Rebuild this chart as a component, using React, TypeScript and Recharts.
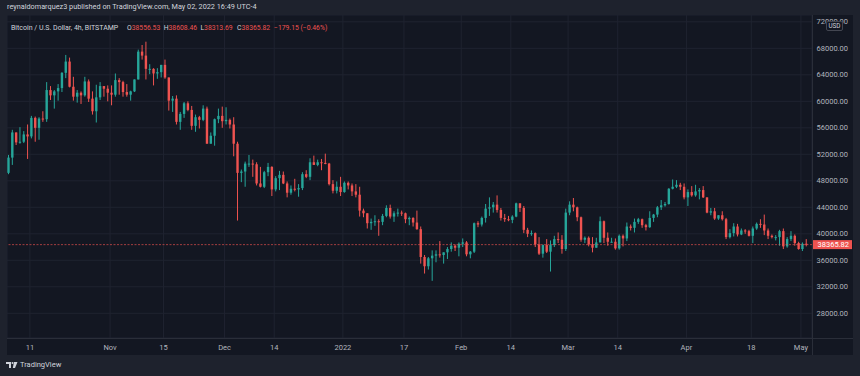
import React from "react";
import {
  ComposedChart,
  Bar,
  XAxis,
  YAxis,
  CartesianGrid,
  ReferenceLine,
} from "recharts";

// daily candles, Oct 5 2021 .. May 2 2022 (BTC/USD, thousands of USD)
const openK = [
  // Oct 5-31
  49.2, 51.5, 55.3, 53.8, 53.9, 55.0, 54.7, 57.5, 56.0, 57.4, 57.3, 61.7, 60.9, 61.5, 62.0, 64.3, 66.0, 62.2, 60.7, 61.3, 60.9, 63.0, 60.4, 58.5, 60.6, 62.3, 61.9,
  // Nov
  61.3, 61.0, 63.2, 62.9, 61.4, 61.0, 61.5, 63.3, 67.5, 66.9, 64.9, 64.9, 64.2, 64.4, 65.5, 63.6, 60.1, 60.4, 56.9, 58.1, 59.7, 58.7, 56.3, 57.6, 57.2, 58.9, 53.6, 54.8, 57.3, 57.8,
  // Dec
  57.0, 57.2, 56.5, 53.6, 49.2, 49.4, 50.6, 50.6, 50.5, 47.6, 47.1, 49.3, 50.1, 46.7, 48.4, 48.9, 47.6, 46.2, 46.8, 46.7, 46.9, 49.0, 48.6, 50.8, 50.4, 50.8, 50.7, 50.6, 47.5, 46.5, 47.1,
  // Jan
  46.3, 47.7, 47.3, 46.4, 45.9, 43.5, 43.1, 41.6, 41.8, 41.9, 41.8, 42.7, 43.9, 42.6, 43.1, 43.2, 43.1, 42.2, 42.4, 41.7, 40.7, 36.5, 35.1, 36.3, 36.7, 36.9, 36.8, 37.2, 37.7, 38.2, 37.9,
  // Feb
  38.5, 38.7, 36.9, 37.3, 41.6, 41.4, 42.4, 43.8, 44.0, 44.4, 43.6, 42.4, 42.2, 42.1, 42.6, 44.6, 43.9, 40.6, 40.0, 40.1, 38.4, 37.0, 38.3, 37.3, 38.3, 39.2, 39.1, 37.7,
  // Mar
  43.2, 44.4, 44.0, 42.5, 39.1, 39.4, 38.4, 37.9, 38.7, 41.9, 39.4, 38.8, 38.8, 37.8, 39.7, 39.3, 41.1, 40.9, 41.8, 42.2, 41.3, 41.0, 42.4, 42.9, 44.0, 44.3, 44.5, 46.8, 47.1, 47.4, 47.1,
  // Apr
  45.5, 46.3, 45.8, 46.4, 46.6, 45.5, 43.2, 43.4, 42.3, 42.8, 42.2, 39.5, 40.1, 41.1, 39.9, 40.5, 40.4, 39.7, 40.8, 41.5, 41.4, 40.5, 39.7, 39.5, 39.5, 40.4, 38.1, 39.2, 39.7, 38.6,
  // May 1-2
  37.7, 38.5,
];

const highK = [
  51.9, 55.7, 55.3, 56.1, 55.5, 56.5, 57.8, 57.7, 57.6, 58.5, 62.9, 62.3, 61.7, 62.6, 64.4, 67.0, 66.6, 63.7, 61.7, 61.5, 63.7, 63.3, 61.5, 62.5, 62.9, 62.3, 62.4,
  62.4, 64.2, 63.5, 63.1, 62.6, 61.6, 63.3, 67.8, 68.5, 69.0, 65.6, 65.0, 65.0, 65.5, 66.3, 63.6, 60.8, 60.9, 58.4, 59.9, 60.0, 59.3, 58.0, 57.8, 59.4, 59.2, 55.3, 57.4, 58.9, 59.2,
  59.1, 57.4, 57.6, 53.9, 49.7, 50.9, 51.9, 51.2, 50.8, 50.1, 49.5, 50.7, 50.2, 48.7, 49.5, 49.4, 47.9, 47.3, 48.3, 47.5, 49.3, 49.6, 51.4, 51.8, 51.2, 51.3, 52.1, 50.7, 48.1, 47.9, 48.6,
  47.9, 47.9, 47.6, 47.5, 47.1, 43.8, 43.1, 42.3, 42.8, 42.2, 43.0, 44.3, 44.4, 43.4, 43.8, 43.5, 43.2, 42.6, 42.5, 43.5, 41.1, 36.8, 36.5, 37.5, 37.5, 38.9, 37.2, 38.0, 38.7, 38.4, 38.7,
  39.3, 38.9, 37.4, 41.7, 41.9, 42.6, 44.5, 45.5, 44.8, 45.8, 43.9, 43.0, 42.7, 42.8, 44.7, 44.6, 44.2, 40.9, 40.5, 40.2, 39.5, 38.4, 39.2, 39.0, 39.7, 40.2, 39.8, 43.8,
  44.9, 45.4, 44.1, 42.6, 39.6, 39.6, 39.5, 39.4, 42.6, 42.0, 40.2, 39.4, 39.3, 39.9, 39.9, 41.7, 41.4, 42.3, 42.4, 42.3, 41.5, 43.4, 43.0, 44.2, 45.1, 44.8, 46.9, 48.2, 48.1, 47.7, 47.6,
  46.7, 47.2, 47.4, 46.9, 47.2, 45.5, 43.9, 43.9, 42.8, 43.4, 42.4, 40.7, 41.6, 41.5, 40.8, 40.7, 40.6, 41.1, 41.7, 42.2, 42.9, 40.8, 39.9, 39.8, 40.6, 40.8, 39.5, 40.4, 39.9, 38.8,
  38.7, 39.2,
];

const lowK = [
  49.0, 50.4, 53.4, 53.6, 53.7, 51.3, 54.4, 53.9, 54.2, 56.9, 56.9, 60.2, 58.9, 60.1, 61.4, 63.5, 62.1, 60.1, 59.8, 59.6, 60.7, 59.9, 58.0, 56.8, 60.2, 60.7, 60.0,
  59.4, 60.7, 61.0, 60.7, 60.7, 60.1, 61.4, 63.3, 66.3, 63.3, 64.1, 62.4, 63.4, 63.6, 63.4, 58.6, 58.4, 56.5, 55.7, 57.5, 58.5, 55.7, 55.4, 55.9, 57.0, 53.6, 53.6, 53.3, 56.7, 56.0,
  56.5, 55.9, 51.7, 42.0, 47.8, 47.1, 50.1, 48.6, 47.3, 47.0, 46.9, 48.7, 45.7, 46.4, 46.6, 47.5, 45.5, 45.9, 46.4, 45.6, 46.6, 48.4, 48.1, 50.4, 50.2, 49.6, 50.5, 47.3, 46.1, 46.1, 45.7,
  46.2, 46.7, 45.7, 45.5, 42.6, 42.5, 40.8, 40.6, 41.2, 39.7, 41.3, 42.5, 42.3, 41.8, 42.6, 42.7, 41.6, 41.3, 41.1, 40.6, 35.5, 34.0, 34.6, 32.9, 35.7, 36.4, 35.5, 36.2, 37.3, 37.4, 36.6,
  38.0, 36.6, 36.3, 37.1, 41.0, 41.1, 41.7, 42.7, 43.2, 43.2, 42.0, 41.8, 41.9, 41.6, 42.5, 43.3, 40.1, 39.5, 39.7, 38.0, 36.8, 36.4, 37.1, 34.3, 38.0, 38.6, 37.0, 37.4,
  42.8, 43.4, 41.9, 38.8, 38.6, 38.1, 37.2, 37.9, 38.7, 38.6, 38.2, 38.7, 37.6, 37.6, 38.1, 38.9, 40.5, 40.2, 41.5, 40.9, 40.5, 40.9, 41.8, 42.5, 43.6, 44.1, 44.4, 46.7, 46.9, 46.6, 45.2,
  44.2, 45.6, 45.6, 45.2, 45.4, 43.1, 42.8, 42.1, 42.1, 42.0, 39.2, 39.3, 39.6, 39.6, 39.8, 40.0, 39.6, 38.6, 40.6, 40.9, 39.8, 39.2, 39.3, 39.0, 38.2, 37.7, 37.9, 38.9, 38.2, 37.6,
  37.4, 38.1,
];

const closeK = [
  51.5, 55.3, 53.8, 53.9, 55.0, 54.7, 57.5, 56.0, 57.4, 57.3, 61.7, 60.9, 61.5, 62.0, 64.3, 66.0, 62.2, 60.7, 61.3, 60.9, 63.0, 60.4, 58.5, 60.6, 62.3, 61.9, 61.3,
  61.0, 63.2, 62.9, 61.4, 61.0, 61.5, 63.3, 67.5, 66.9, 64.9, 64.9, 64.2, 64.4, 65.5, 63.6, 60.1, 60.4, 56.9, 58.1, 59.7, 58.7, 56.3, 57.6, 57.2, 58.9, 53.6, 54.8, 57.3, 57.8, 57.0,
  57.2, 56.5, 53.6, 49.2, 49.4, 50.6, 50.6, 50.5, 47.6, 47.1, 49.3, 50.1, 46.7, 48.4, 48.9, 47.6, 46.2, 46.8, 46.7, 46.9, 49.0, 48.6, 50.8, 50.4, 50.8, 50.7, 50.6, 47.5, 46.5, 47.1, 46.3,
  47.7, 47.3, 46.4, 45.9, 43.5, 43.1, 41.6, 41.8, 41.9, 41.8, 42.7, 43.9, 42.6, 43.1, 43.2, 43.1, 42.2, 42.4, 41.7, 40.7, 36.5, 35.1, 36.3, 36.7, 36.9, 36.8, 37.2, 37.7, 38.2, 37.9, 38.5,
  38.7, 36.9, 37.3, 41.6, 41.4, 42.4, 43.8, 44.0, 44.4, 43.6, 42.4, 42.2, 42.1, 42.6, 44.6, 43.9, 40.6, 40.0, 40.1, 38.4, 37.0, 38.3, 37.3, 38.3, 39.2, 39.1, 37.7, 43.2,
  44.4, 44.0, 42.5, 39.1, 39.4, 38.4, 37.9, 38.7, 41.9, 39.4, 38.8, 38.8, 37.8, 39.7, 39.3, 41.1, 40.9, 41.8, 42.2, 41.3, 41.0, 42.4, 42.9, 44.0, 44.3, 44.5, 46.8, 47.1, 47.4, 47.1, 45.5,
  46.3, 45.8, 46.4, 46.6, 45.5, 43.2, 43.4, 42.3, 42.8, 42.2, 39.5, 40.1, 41.1, 39.9, 40.5, 40.4, 39.7, 40.8, 41.5, 41.4, 40.5, 39.7, 39.5, 39.5, 40.4, 38.1, 39.2, 39.7, 38.6, 37.7,
  38.5, 38.36582,
];

// day index (Oct 5 = 0) of each time-axis label
const tickDays = [6, 27, 41, 57, 70, 88, 104, 119, 132, 147, 160, 178, 195, 208];
const tickLabels = ["11", "Nov", "15", "Dec", "14", "2022", "17", "Feb", "14", "Mar", "14", "Apr", "18", "May"];
const priceTicks = [28000, 32000, 36000, 40000, 44000, 48000, 52000, 56000, 60000, 64000, 68000, 72000];
const lastPrice = 38365.82;

// legend of the last 4h bar
const legendKeys = ["O", "H", "L", "C"];
const legendValues = ["38556.53", "38608.46", "38313.69", "38365.82"];
const legendChange = "−179.15 (−0.46%)";

const UP = "#26a69a";
const DOWN = "#ef5350";
const TEXT = "#b2b5be";
const FONT = "Roboto, 'Noto Sans', sans-serif";

const rows = closeK.map((c, i) => ({
  t: i + 0.5,
  open: openK[i] * 1000,
  high: highK[i] * 1000,
  low: lowK[i] * 1000,
  close: c * 1000,
  range: [lowK[i] * 1000, highK[i] * 1000],
}));

function Candle(props: any) {
  const { x, y, width, height, payload } = props;
  if (x == null || y == null || !payload) return null;
  const { open, close, high, low } = payload;
  const color = close >= open ? UP : DOWN;
  const top = Math.min(y, y + height);
  const h = Math.abs(height);
  const k = high > low ? h / (high - low) : 0;
  const cx = x + width / 2;
  const bTop = top + (high - Math.max(open, close)) * k;
  const bBot = top + (high - Math.min(open, close)) * k;
  return (
    <g>
      <line x1={cx} x2={cx} y1={top} y2={top + h} stroke={color} strokeWidth={1} />
      <rect x={cx - 1.2} y={bTop} width={2.4} height={Math.max(1, bBot - bTop)} fill={color} />
    </g>
  );
}

function TimeTick(props: any) {
  const { x, y, payload } = props;
  const label = tickLabels[tickDays.indexOf(payload.value)];
  return (
    <text x={x} y={y + 12} textAnchor="middle" fill={TEXT} fontSize={7.5} fontFamily={FONT}>
      {label}
    </text>
  );
}

function PriceTick(props: any) {
  const { x, y, payload } = props;
  return (
    <text x={x + 36} y={y} dy="0.35em" textAnchor="end" fill={TEXT} fontSize={7.5} fontFamily={FONT}>
      {payload.value.toFixed(2)}
    </text>
  );
}

function LastPriceLabel(props: any) {
  const vb = props.viewBox;
  if (!vb) return null;
  const x = vb.x + vb.width + 1;
  return (
    <g>
      <rect x={x} y={vb.y - 4.5} width={39} height={9} fill={DOWN} />
      <text x={x + 36} y={vb.y} dy="0.35em" textAnchor="end" fill="#ffffff" fontSize={7.5} fontFamily={FONT}>
        {lastPrice.toFixed(2)}
      </text>
    </g>
  );
}

export default function App() {
  const abs = (l: number, t: number, extra: any = {}) => ({ position: "absolute" as const, left: l, top: t, whiteSpace: "nowrap" as const, ...extra });
  return (
    <div style={{ position: "absolute", left: 0, top: 0, width: 860, height: 376, background: "#1e222d", overflow: "hidden", fontFamily: FONT }}>
      <div style={abs(7, 2, { fontSize: 7.3, color: "#d1d4dc" })}>
        reynaldomarquez3 published on TradingView.com, May 02, 2022 16:49 UTC-4
      </div>
      <div style={{ position: "absolute", left: 7, top: 15, width: 846, height: 340, background: "#131722" }}>
        <ComposedChart width={846} height={340} data={rows} margin={{ top: 0, right: 0, bottom: 0, left: 0 }}>
          <CartesianGrid stroke="#1f2330" strokeWidth={1} />
          <XAxis
            type="number"
            dataKey="t"
            domain={[0, 210.9]}
            ticks={tickDays}
            allowDataOverflow
            height={17}
            axisLine={false}
            tickLine={false}
            tickSize={0}
            tickMargin={0}
            tick={<TimeTick />}
            interval={0}
          />
          <YAxis
            orientation="right"
            domain={[24270, 73030]}
            ticks={priceTicks}
            allowDataOverflow
            width={41}
            axisLine={false}
            tickLine={false}
            tickSize={0}
            tickMargin={0}
            tick={<PriceTick />}
            interval={0}
          />
          <Bar dataKey="range" barSize={3} isAnimationActive={false} shape={(p: any) => <Candle {...p} />} />
          <ReferenceLine y={lastPrice} stroke={DOWN} strokeOpacity={0.65} strokeDasharray="2 1.5" label={<LastPriceLabel />} />
        </ComposedChart>
        <div style={{ position: "absolute", left: 805, top: 0, width: 1, height: 340, background: "#2a2e39" }} />
        <div style={{ position: "absolute", left: 0, top: 323, width: 846, height: 1, background: "#2a2e39" }} />
        <div style={abs(819, 5.5, { width: 15, height: 8, border: "1px solid #434651", borderRadius: 2, background: "#131722", color: "#d1d4dc", fontSize: 6.3, lineHeight: "8px", textAlign: "center" })}>
          USD
        </div>
        <div style={abs(4, 9, { fontSize: 7, color: "#d1d4dc" })}>Bitcoin / U.S. Dollar, 4h, BITSTAMP</div>
        {legendKeys.map((key, i) => (
          <div key={key} style={abs(120 + i * 36.7, 9, { fontSize: 6.8, color: "#d1d4dc" })}>
            {key}
            <span style={{ color: DOWN }}>{legendValues[i]}</span>
          </div>
        ))}
        <div style={abs(267, 9, { fontSize: 6.8, color: DOWN })}>{legendChange}</div>
      </div>
      <svg style={{ position: "absolute", left: 6, top: 362 }} width={12} height={6}>
        <path d="M0 0 H5 V6 H3 V2 H0 Z" fill="#d1d4dc" />
        <circle cx={6.5} cy={1} r={1} fill="#d1d4dc" />
        <path d="M8 0 H11.5 L9 6 H6.8 Z" fill="#d1d4dc" />
      </svg>
      <div style={abs(20, 360, { fontSize: 7.5, color: "#d1d4dc" })}>TradingView</div>
    </div>
  );
}
